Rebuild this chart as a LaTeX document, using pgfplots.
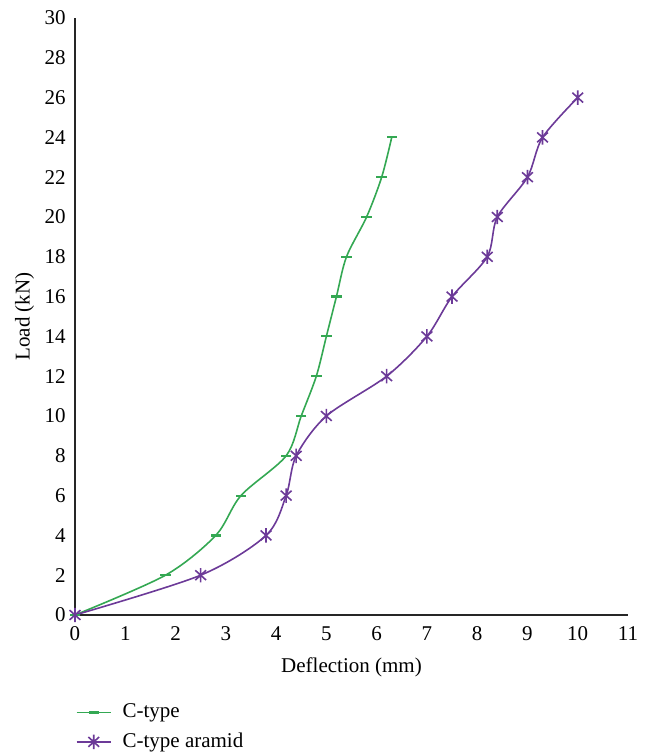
\documentclass[border=0pt]{standalone}
\usepackage{fontspec}
\setmainfont{Liberation Serif}
\usepackage{pgfplots}
\pgfplotsset{compat=1.18}
\definecolor{cgreen}{RGB}{52,168,83}
\definecolor{cpurple}{RGB}{108,58,152}
\pgfdeclareplotmark{xast}{%
  \pgfpathmoveto{\pgfqpoint{0pt}{\pgfplotmarksize}}%
  \pgfpathlineto{\pgfqpoint{0pt}{-\pgfplotmarksize}}%
  \pgfpathmoveto{\pgfqpoint{0.75\pgfplotmarksize}{0.68\pgfplotmarksize}}%
  \pgfpathlineto{\pgfqpoint{-0.75\pgfplotmarksize}{-0.68\pgfplotmarksize}}%
  \pgfpathmoveto{\pgfqpoint{-0.75\pgfplotmarksize}{0.68\pgfplotmarksize}}%
  \pgfpathlineto{\pgfqpoint{0.75\pgfplotmarksize}{-0.68\pgfplotmarksize}}%
  \pgfusepathqstroke}
\begin{document}
\fontsize{10.5}{12}\selectfont
\begin{tikzpicture}
\begin{axis}[
  name=ax,
  scale only axis,
  width=276.5pt, height=298.5pt,
  xmin=0, xmax=11, ymin=0, ymax=30,
  xtick={0,1,...,11}, ytick={0,2,...,30},
  axis lines=left,
  axis line style={-, line width=0.7pt, black!85},
  major tick length=0pt,
  /pgf/number format/assume math mode=true,
  tick label style={font=\fontsize{10.5}{12}\selectfont},
  xticklabel style={yshift=-2pt},
  yticklabel style={xshift=-1pt},
  xlabel={Deflection (mm)},
  ylabel={Load (kN)},
  label style={font=\fontsize{10.5}{12}\selectfont},
  xlabel style={yshift=-1.5pt},
  ylabel style={yshift=-2pt},
  clip=false,
  legend style={draw=none, at={(axis description cs:-0.01,-0.135)}, anchor=north west,
    font=\fontsize{10.5}{12}\selectfont, row sep=2pt, fill=none,
    /tikz/every odd column/.append style={column sep=3.5pt}},
  legend cell align=left,
]
\addplot[cgreen, line width=0.8pt, smooth, mark=-, mark size=2.6pt, mark options={line width=1.1pt}] coordinates {
(0,0) (1.8,2) (2.8,4) (3.3,6) (4.2,8) (4.5,10) (4.8,12) (5.0,14) (5.2,16) (5.4,18) (5.8,20) (6.1,22) (6.3,24)
};
\addlegendentry{C-type}
\addplot[cpurple, line width=0.8pt, smooth, mark=xast, mark size=3.6pt, mark options={line width=0.8pt}] coordinates {
(0,0) (2.5,2) (3.8,4) (4.2,6) (4.4,8) (5.0,10) (6.2,12) (7.0,14) (7.5,16) (8.2,18) (8.4,20) (9.0,22) (9.3,24) (10.0,26)
};
\addlegendentry{C-type aramid}
\end{axis}
\pgfresetboundingbox
\path ([shift={(-37.5pt,-70pt)}]ax.south west) rectangle ([shift={(8pt,9pt)}]ax.north east);
\end{tikzpicture}
\end{document}
